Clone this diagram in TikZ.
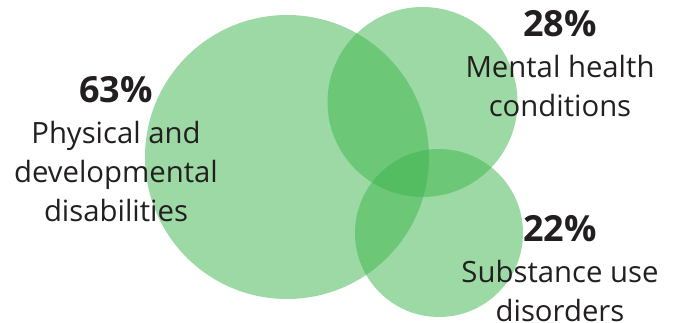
\documentclass[tikz,border=0pt]{standalone}
\usepackage{fontspec}
\setmainfont{Open Sans}
\usetikzlibrary{positioning}
\definecolor{vgreen}{HTML}{3CB44B}
\definecolor{vtext}{HTML}{231F20}
\tikzset{
    blob/.style={circle, fill=vgreen, fill opacity=0.5, inner sep=0pt}, % one circle of the diagram
    share/.style={text=vtext, font=\fontsize{36}{40}\selectfont\bfseries, inner sep=0pt, anchor=base},
    group/.style={text=vtext, font=\fontsize{29.3}{39}\selectfont, align=center, inner sep=0pt, anchor=north},
    }
\begin{document}
\begin{tikzpicture}[x=1pt, y=-1pt]
        \useasboundingbox (0,0) rectangle (678,323);
        \node[blob, minimum size=284] (phys) at (287,157) {};
        \node[blob, minimum size=190] (ment) at (422.5,102) {};
        \node[blob, minimum size=168] (subs) at (439,233) {};

        \node[share] (p63) at (116,103) {63\%};
        \node[group] (ptext) at (116,121.5) {Physical and\\developmental\\disabilities};
        \node[share] (m28) at (560,37) {28\%};
        \node[group] (mtext) at (560,55.5) {Mental health\\conditions};
        \node[share] (s22) at (560,242) {22\%};
        \node[group] (stext) at (560,260.5) {Substance use\\disorders};
    \end{tikzpicture}
\end{document}
